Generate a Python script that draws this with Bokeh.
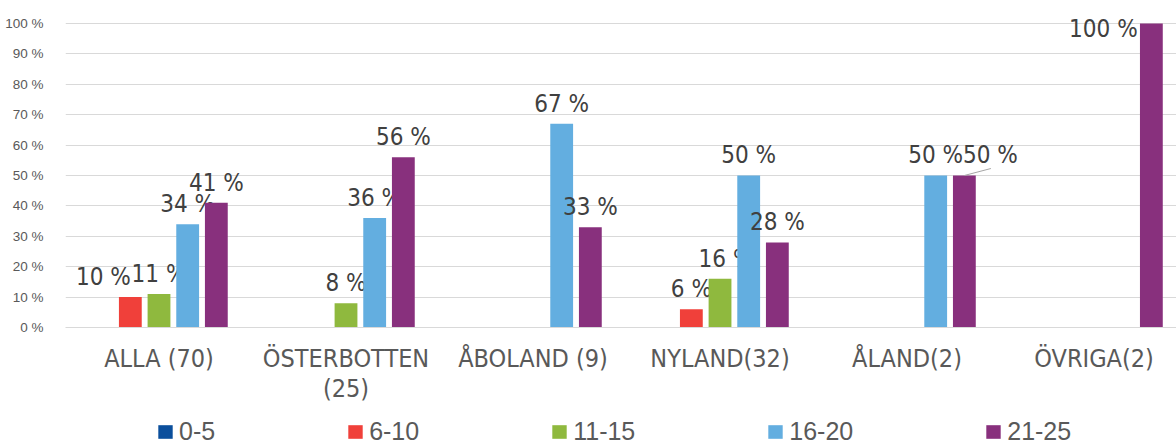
from bokeh.plotting import figure
from bokeh.layouts import column
from bokeh.models import Range1d, FixedTicker, Legend, LegendItem, ColumnDataSource
from bokeh.core.properties import value
from bokeh.embed import file_html
from bokeh.resources import INLINE

categories = ["ALLA (70)", "ÖSTERBOTTEN\n(25)", "ÅBOLAND (9)", "NYLAND(32)", "ÅLAND(2)", "ÖVRIGA(2)"]
series = ["0-5", "6-10", "11-15", "16-20", "21-25"]
s_0_5 = [0, 0, 0, 0, 0, 0]
s_6_10 = [10, 0, 0, 6, 0, 0]
s_11_15 = [11, 8, 0, 16, 0, 0]
s_16_20 = [34, 36, 67, 50, 50, 0]
s_21_25 = [41, 56, 33, 28, 50, 100]
values = [s_0_5, s_6_10, s_11_15, s_16_20, s_21_25]
y_ticks = [0, 10, 20, 30, 40, 50, 60, 70, 80, 90, 100]

colors = ["#0b4f9c", "#f0403a", "#8fb93e", "#63aee0", "#88307d"]
FONT = "DejaVu Sans Condensed, DejaVu Sans"
GRAY = "#595959"
offsets = [-0.3066, -0.1533, 0.0, 0.1533, 0.3066]
bar_w = 0.122
# label nudges in screen pixels (cat index, series index) -> (dx, dy)
label_shift = {(0, 1): (-27, 0), (3, 2): (6, 0), (4, 4): (26, 0), (5, 4): (-48, 26)}

p = figure(width=1176, height=405, output_backend="svg", toolbar_location=None,
           x_range=Range1d(0, 5.941), y_range=Range1d(0, 104.93),
           min_border_left=65, min_border_right=0, min_border_top=8, min_border_bottom=78)
p.outline_line_color = None

renderers = []
for si, name in enumerate(series):
    xs = [ci + 0.5 + offsets[si] for ci in range(len(categories))]
    src = ColumnDataSource(dict(x=xs, top=values[si]))
    renderers.append(p.vbar(x="x", top="top", width=bar_w, bottom=0, source=src,
                            fill_color=colors[si], line_color=None))

    lx, ly, lt, dxs, dys = [], [], [], [], []
    for ci, v in enumerate(values[si]):
        if v > 0:
            dx, dy = label_shift.get((ci, si), (0, 0))
            lx.append(xs[ci]); ly.append(v); lt.append(f"{v} %")
            dxs.append(dx); dys.append(-20 + dy)
    lsrc = ColumnDataSource(dict(x=lx, y=ly, t=lt, dx=dxs, dy=dys))
    p.text(x="x", y="y", text="t", x_offset="dx", y_offset="dy", source=lsrc,
           text_align="center", text_baseline="alphabetic",
           text_font=value(FONT), text_font_size="24px", text_color="#404040")

# leader line for ÅLAND 21-25 label
lead_x = 4 + 0.5 + offsets[4]
p.segment(x0=[lead_x], y0=[s_21_25[4]], x1=[lead_x + 0.142], y1=[s_21_25[4] + 2.3],
          line_color="#a6a6a6", line_width=1)

# axes
p.yaxis.ticker = FixedTicker(ticks=y_ticks)
p.yaxis.major_label_overrides = {t: f"{t} %" for t in y_ticks}
p.yaxis.axis_line_color = None
p.yaxis.major_tick_line_color = None
p.yaxis.minor_tick_line_color = None
p.yaxis.major_label_text_font = "Liberation Sans"
p.yaxis.major_label_text_font_size = "13.5px"
p.yaxis.major_label_text_color = GRAY
p.yaxis.major_label_standoff = 16

cat_ticks = [ci + 0.5 for ci in range(len(categories))]
p.xaxis.ticker = FixedTicker(ticks=cat_ticks)
p.xaxis.major_label_overrides = {t: c for t, c in zip(cat_ticks, categories)}
p.xaxis.axis_line_color = "#d9d9d9"
p.xaxis.major_tick_line_color = None
p.xaxis.minor_tick_line_color = None
p.xaxis.major_label_text_font = FONT
p.xaxis.major_label_text_font_size = "25px"
p.xaxis.major_label_text_line_height = 1.05
p.xaxis.major_label_text_color = GRAY
p.xaxis.major_label_standoff = 10

p.xgrid.grid_line_color = None
p.ygrid.ticker = FixedTicker(ticks=y_ticks)
p.ygrid.grid_line_color = "#d9d9d9"
p.ygrid.grid_line_width = 1

# legend strip below the chart (its frame is aligned with the chart frame)
lg = figure(width=1176, height=40, output_backend="svg", toolbar_location=None,
            x_range=Range1d(0, 1), y_range=Range1d(0, 1),
            x_axis_location=None, y_axis_location=None,
            min_border_left=0, min_border_right=0, min_border_top=0, min_border_bottom=0)
lg.outline_line_color = None
lg.xgrid.visible = False
lg.ygrid.visible = False
lg.border_fill_color = "white"
items = []
for si, name in enumerate(series):
    # legend-only swatch renderer: zero-height bar, nothing visible in the strip
    r = lg.vbar(x=[0.5], top=[0], bottom=0, width=0.1, fill_color=colors[si], line_color=None)
    items.append(LegendItem(label=name, renderers=[r]))

legend = Legend(items=items, orientation="horizontal", location=(91, -1),
                spacing=131, glyph_width=18, glyph_height=17, label_standoff=5,
                label_text_font="Liberation Sans", label_text_font_size="25px",
                label_text_color=GRAY, label_height=20,
                border_line_color=None, background_fill_alpha=0, padding=0, margin=0)
lg.add_layout(legend, "center")

layout = column(p, lg, spacing=0)
open("out.html", "w").write(file_html(layout, INLINE))
